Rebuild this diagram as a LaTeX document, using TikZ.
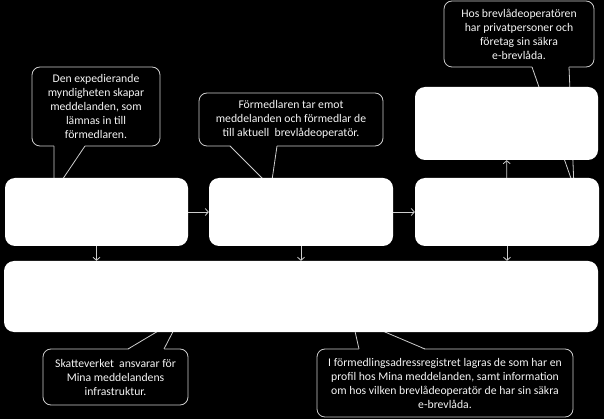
\documentclass[tikz,border=0pt]{standalone}
\usepackage{fontspec}
\setmainfont{Carlito}
\usepackage{tikz}
\usetikzlibrary{arrows.meta,positioning}
\definecolor{linegray}{RGB}{205,205,205}
\definecolor{textwhite}{RGB}{245,245,245}

\begin{document}
\begin{tikzpicture}[x=1pt,y=-1pt,
    bubble/.style={draw=linegray,line width=0.8pt,fill=black,rounded corners=8pt,
      text=textwhite,align=center,inner sep=0pt,font=\fontsize{11.7}{14}\selectfont},
    panel/.style={fill=white,rounded corners=10pt,inner sep=0pt},
    flow/.style={draw=linegray,line width=0.8pt,-{Straight Barb[length=3pt,width=7pt]}}]
    % Background
    \fill[black] (0,0) rectangle (604,419);

    % Callout: expedierande myndighet
    \node[bubble,minimum width=128pt,minimum height=79pt] (noteAgency) at (96,106.5)
      {Den expedierande\\myndigheten skapar\\meddelanden, som\\lämnas in till\\förmedlaren.};
    \fill[black] (54,145.2) -- (54,192) -- (85,145.2) -- cycle;
    \draw[linegray,line width=0.8pt] (54,146) -- (54,192) -- (85,146);

    % Callout: förmedlare
    \node[bubble,minimum width=184pt,minimum height=53pt] (noteRelay) at (291,119.5)
      {Förmedlaren tar emot\\meddelanden och förmedlar de\\till aktuell\ \ brevlådeoperatör.};
    \fill[black] (230,145.2) -- (271,187) -- (277,145.2) -- cycle;
    \draw[linegray,line width=0.8pt] (230,146) -- (271,187) -- (277,146);

    % Callout: brevlådeoperatör
    \node[bubble,minimum width=150pt,minimum height=66pt] (noteOperator) at (519,34)
      {Hos brevlådeoperatören\\har privatpersoner och\\företag sin säkra\\e-brevlåda.};
    \fill[black] (532,66.2) -- (574,187) -- (569,66.2) -- cycle;
    \draw[linegray,line width=0.8pt] (532,67) -- (574,187) -- (569,67);

    % Callout: Skatteverket
    \node[bubble,minimum width=145pt,minimum height=56pt] (noteTax) at (115.5,377)
      {Skatteverket\ \ ansvarar för\\Mina meddelandens\\infrastruktur.};
    \fill[black] (128,349.8) -- (180,318) -- (164,349.8) -- cycle;
    \draw[linegray,line width=0.8pt] (128,349) -- (180,318) -- (164,349);

    % Callout: förmedlingsadressregistret
    \node[bubble,minimum width=256pt,minimum height=68pt] (noteRegistry) at (445,383)
      {I förmedlingsadressregistret lagras de som har en\\profil hos Mina meddelanden, samt information\\om hos vilken brevlådeoperatör de har sin säkra\\e-brevlåda.};
    \fill[black] (359,349.8) -- (352,318) -- (425,349.8) -- cycle;
    \draw[linegray,line width=0.8pt] (359,349) -- (352,318) -- (425,349);

    % White boxes
    \node[panel,minimum width=183pt,minimum height=68pt] (agency) at (96.5,212) {};
    \node[panel,minimum width=184pt,minimum height=68pt] (relay) at (301,212) {};
    \node[panel,minimum width=184pt,minimum height=68pt] (operator) at (507,212) {};
    \node[panel,minimum width=183pt,minimum height=73pt] (mailbox) at (506.5,123.5) {};
    \node[panel,minimum width=594pt,minimum height=71pt] (registry) at (301,296.5) {};

    % Flow
    \draw[flow] (agency) -- (relay);
    \draw[flow] (relay) -- (operator);
    \draw[flow] (operator) -- (mailbox);
    \draw[flow] (agency.south) -- (agency.south |- registry.north);
    \draw[flow] (relay.south) -- (relay.south |- registry.north);
    \draw[flow] (operator.south) -- (operator.south |- registry.north);
\end{tikzpicture}
\end{document}
